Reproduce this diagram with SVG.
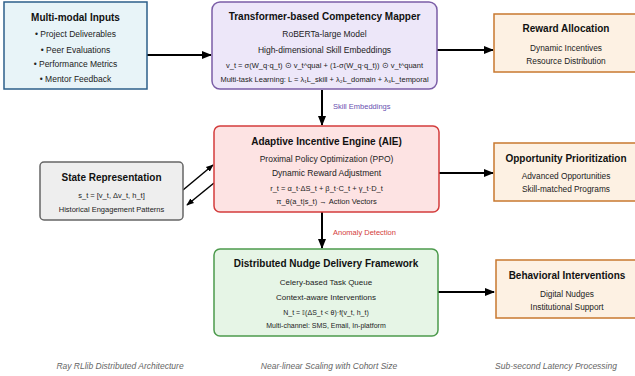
<svg xmlns="http://www.w3.org/2000/svg" width="635" height="376" viewBox="0 0 635 376">
<defs>
<marker id="ah" viewBox="0 0 10 10" refX="9" refY="5" markerWidth="5" markerHeight="5" orient="auto-start-reverse" markerUnits="strokeWidth">
<path d="M0,1 L10,5 L0,9 z" fill="#000"/>
</marker>
<style>
text{font-family:"Liberation Sans",Arial,sans-serif;fill:#222;text-anchor:middle}
.t{font-size:10px;font-weight:bold;fill:#111}
.b{font-size:8.5px}
.s{font-size:7.5px}
.o{font-size:8.3px}
.f{font-size:8.5px;font-style:italic;fill:#666}
.c{stroke:#000;stroke-width:2;fill:none;marker-end:url(#ah)}
.c2{stroke:#000;stroke-width:1.5;fill:none;marker-end:url(#ah)}
.out{fill:#fdf1e3;stroke:#c8782f;stroke-width:1.5}
</style>
</defs>
<rect width="635" height="376" fill="#fff"/>
<g id="connectors">
<line class="c" x1="147" y1="55" x2="211" y2="55"/>
<line class="c" x1="437" y1="50" x2="493" y2="50"/>
<line class="c" x1="322" y1="90" x2="322" y2="125"/>
<text x="333" y="109" style="font-size:7.5px;fill:#6a4fb0;text-anchor:start">Skill Embeddings</text>
<line class="c2" x1="183" y1="190" x2="213" y2="165"/>
<line class="c2" x1="214" y1="183" x2="187" y2="205"/>
<line class="c" x1="439" y1="173" x2="493" y2="173"/>
<line class="c" x1="322" y1="212" x2="322" y2="248"/>
<text x="333" y="235" style="font-size:7.5px;fill:#d33c3c;text-anchor:start">Anomaly Detection</text>
<line class="c" x1="438" y1="292" x2="494" y2="292"/>
</g>
<g id="inputs">
<rect x="4" y="2" width="143" height="87" fill="#e8f4f8" stroke="#2c5f8a" stroke-width="1.5"/>
<text class="t" x="75.5" y="21">Multi-modal Inputs</text>
<text class="b" x="75.5" y="37">• Project Deliverables</text>
<text class="b" x="75.5" y="53">• Peer Evaluations</text>
<text class="b" x="75.5" y="67">• Performance Metrics</text>
<text class="b" x="75.5" y="82">• Mentor Feedback</text>
</g>
<g id="mapper">
<rect x="212" y="2" width="225" height="87" rx="8" fill="#ede7f9" stroke="#7b5ea7" stroke-width="1.5"/>
<text class="t" x="324.5" y="20">Transformer-based Competency Mapper</text>
<text class="b" x="324.5" y="37">RoBERTa-large Model</text>
<text class="b" x="324.5" y="53">High-dimensional Skill Embeddings</text>
<text class="s" x="324.5" y="68">v_t = σ(W_q·q_t) ⊙ v_t^qual + (1-σ(W_q·q_t)) ⊙ v_t^quant</text>
<text class="s" x="324.5" y="82">Multi-task Learning: L = λ₁L_skill + λ₂L_domain + λ₃L_temporal</text>
</g>
<g id="reward">
<rect class="out" x="494" y="14" width="146" height="58"/>
<text class="t" x="566" y="32">Reward Allocation</text>
<text class="o" x="566" y="51">Dynamic Incentives</text>
<text class="o" x="566" y="64">Resource Distribution</text>
</g>
<g id="state">
<rect x="40" y="162" width="143" height="58" rx="4" fill="#eeeeee" stroke="#666" stroke-width="1.5"/>
<text class="t" x="111.5" y="181">State Representation</text>
<text class="s" x="111.5" y="198">s_t = [v_t, Δv_t, h_t]</text>
<text class="s" x="111.5" y="212">Historical Engagement Patterns</text>
</g>
<g id="aie">
<rect x="214" y="126" width="225" height="86" rx="6" fill="#fde3e3" stroke="#d33c3c" stroke-width="1.5"/>
<text class="t" x="326.5" y="145">Adaptive Incentive Engine (AIE)</text>
<text class="b" x="326.5" y="162">Proximal Policy Optimization (PPO)</text>
<text class="b" x="326.5" y="176">Dynamic Reward Adjustment</text>
<text class="s" x="326.5" y="191">r_t = α_t·ΔS_t + β_t·C_t + γ_t·D_t</text>
<text class="s" x="326.5" y="204">π_θ(a_t|s_t) → Action Vectors</text>
</g>
<g id="opportunity">
<rect class="out" x="494" y="143" width="146" height="58"/>
<text class="t" x="566" y="162">Opportunity Prioritization</text>
<text class="o" x="566" y="179">Advanced Opportunities</text>
<text class="o" x="566" y="192">Skill-matched Programs</text>
</g>
<g id="nudge">
<rect x="214" y="249" width="224" height="87" rx="6" fill="#e6f5e6" stroke="#4c9a4c" stroke-width="1.5"/>
<text class="t" x="326" y="267">Distributed Nudge Delivery Framework</text>
<text class="b" x="326" y="285" style="font-size:8px">Celery-based Task Queue</text>
<text class="b" x="326" y="300" style="font-size:8px">Context-aware Interventions</text>
<text class="s" x="326" y="315" style="font-size:7px">N_t = 𝕀(ΔS_t &lt; θ)·f(v_t, h_t)</text>
<text class="s" x="326" y="328" style="font-size:7px">Multi-channel: SMS, Email, In-platform</text>
</g>
<g id="behavioral">
<rect class="out" x="496" y="260" width="144" height="58"/>
<text class="t" x="567" y="279">Behavioral Interventions</text>
<text class="o" x="567" y="297">Digital Nudges</text>
<text class="o" x="567" y="310">Institutional Support</text>
</g>
<g id="footer">
<text class="f" x="120" y="369">Ray RLlib Distributed Architecture</text>
<text class="f" x="329" y="369">Near-linear Scaling with Cohort Size</text>
<text class="f" x="556" y="369">Sub-second Latency Processing</text>
</g>
</svg>
